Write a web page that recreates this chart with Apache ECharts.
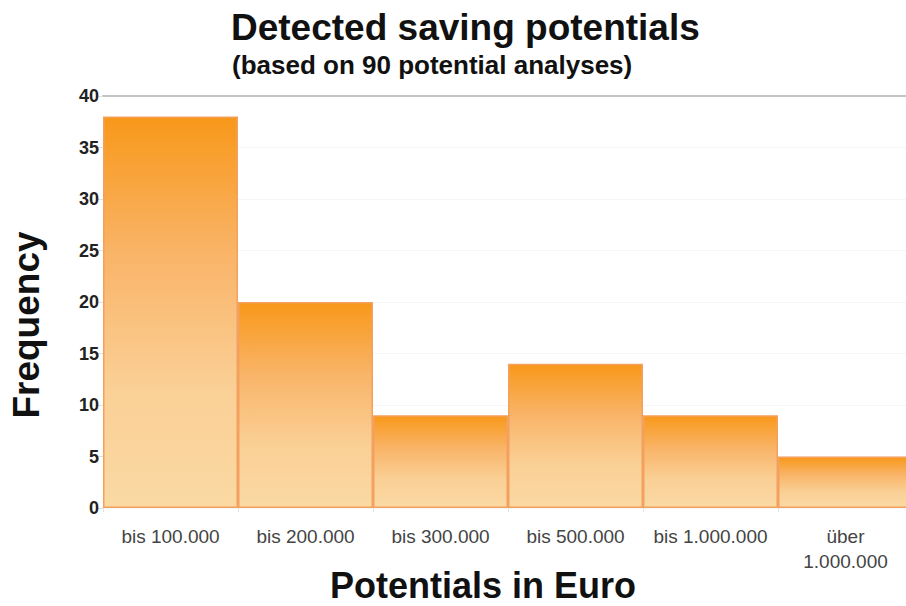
<!DOCTYPE html>
<html>
<head>
<meta charset="utf-8">
<script src="https://cdn.jsdelivr.net/npm/echarts@6/dist/echarts.min.js"></script>
<style>
html,body{margin:0;padding:0;background:#fff;overflow:hidden;}
#chart{width:906px;height:606px;}
</style>
</head>
<body>
<div id="chart"></div>
<script>
const titleText = 'Detected saving potentials';
const subtitleText = '(based on 90 potential analyses)';
const categories = ['bis 100.000', 'bis 200.000', 'bis 300.000', 'bis 500.000', 'bis 1.000.000', 'über\n1.000.000'];
const frequencies = [38, 20, 9, 14, 9, 5];
const xAxisTitle = 'Potentials in Euro';
const yAxisTitle = 'Frequency';

const chart = echarts.init(document.getElementById('chart'), null, {renderer: 'svg', width: 906, height: 606});
const font = '"Liberation Sans", Arial, Helvetica, sans-serif';
const grad = new echarts.graphic.LinearGradient(0, 0, 0, 1, [
  {offset: 0, color: '#F8981A'},
  {offset: 0.35, color: '#F9B468'},
  {offset: 0.7, color: '#FAD096'},
  {offset: 1, color: '#FAD9A3'}
]);
chart.setOption({
  animation: false,
  backgroundColor: '#ffffff',
  textStyle: {fontFamily: font},
  title: [
    {text: titleText, left: 226, top: 4, textStyle: {fontFamily: font, fontSize: 37, fontWeight: 'bold', color: '#111'}},
    {text: subtitleText, left: 227, top: 47, textStyle: {fontFamily: font, fontSize: 26, fontWeight: 'bold', color: '#111'}}
  ],
  grid: {left: 103, top: 96, width: 810, height: 412, containLabel: false, outerBoundsMode: 'none'},
  xAxis: [{
    type: 'category',
    data: categories,
    position: 'bottom',
    axisLine: {show: false},
    axisTick: {show: true, length: 4, lineStyle: {color: '#e4e4e4'}},
    axisLabel: {color: '#444', fontSize: 19, margin: 16, lineHeight: 25, interval: 0, fontFamily: font},
    name: xAxisTitle,
    nameLocation: 'middle',
    nameGap: 59,
    nameMoveOverlap: false,
    nameTextStyle: {fontFamily: font, fontSize: 36, fontWeight: 'bold', color: '#111', padding: [0, 50, 0, 0]}
  }, {
    type: 'category',
    data: categories,
    position: 'top',
    axisLine: {show: true, lineStyle: {color: '#c4c4c4', width: 2}},
    axisTick: {show: false},
    axisLabel: {show: false}
  }],
  yAxis: {
    type: 'value',
    min: 0,
    max: 40,
    interval: 5,
    axisLine: {show: false},
    axisTick: {show: true, length: 6, lineStyle: {color: '#e0e0e0'}},
    axisLabel: {color: '#222', fontSize: 18, fontWeight: 'bold', margin: 4, fontFamily: font},
    splitLine: {show: true, lineStyle: {color: '#f6f6f6'}},
    name: yAxisTitle,
    nameLocation: 'middle',
    nameGap: 58,
    nameRotate: 90,
    nameMoveOverlap: false,
    nameTextStyle: {fontFamily: font, fontSize: 37, fontWeight: 'bold', color: '#111', padding: [0, 46, 0, 0]}
  },
  series: [{
    type: 'bar',
    data: frequencies,
    barCategoryGap: '0%',
    itemStyle: {color: grad, borderColor: '#F4A05E', borderWidth: 1.5}
  }]
});
</script>
</body>
</html>
